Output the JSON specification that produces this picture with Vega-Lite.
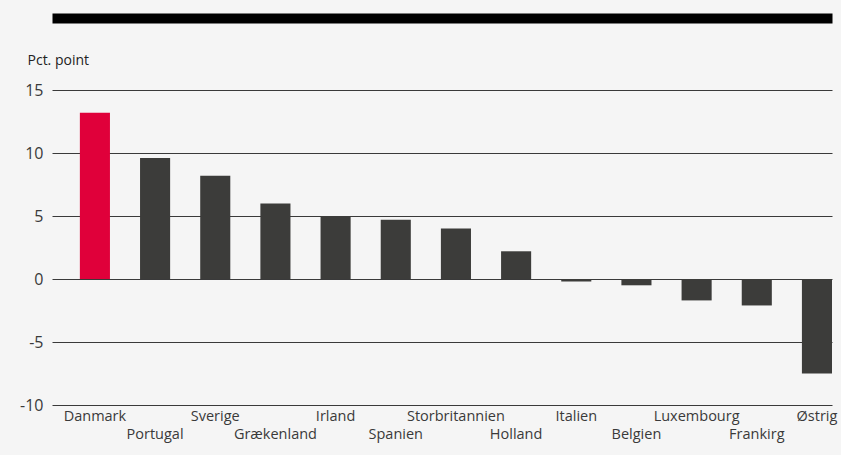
{
  "$schema": "https://vega.github.io/schema/vega-lite/v6.json",
  "width": 780,
  "height": 315,
  "autosize": {"type": "none"},
  "padding": {"left": 52, "top": 90, "right": 9, "bottom": 50},
  "background": "#f5f5f5",
  "config": {
    "view": {"stroke": null},
    "font": "Open Sans",
    "axis": {"labelColor": "#3a3a3a", "titleColor": "#222222"}
  },
  "data": {
    "values": [
      {"country": "Danmark", "value": 13.2},
      {"country": "Portugal", "value": 9.6},
      {"country": "Sverige", "value": 8.2},
      {"country": "Grækenland", "value": 6.0},
      {"country": "Irland", "value": 5.0},
      {"country": "Spanien", "value": 4.7},
      {"country": "Storbritannien", "value": 4.0},
      {"country": "Holland", "value": 2.2},
      {"country": "Italien", "value": -0.2},
      {"country": "Belgien", "value": -0.5},
      {"country": "Luxembourg", "value": -1.7},
      {"country": "Frankirg", "value": -2.1},
      {"country": "Østrig", "value": -7.5}
    ]
  },
  "encoding": {
    "x": {
      "field": "country",
      "type": "nominal",
      "sort": null,
      "scale": {"paddingInner": 0.5, "paddingOuter": 0.2316, "align": 1}
    }
  },
  "layer": [
    {
      "mark": {"type": "bar"},
      "encoding": {
        "x": {
          "field": "country",
          "type": "nominal",
          "sort": null,
          "axis": {
            "orient": "bottom",
            "title": null,
            "domain": false,
            "ticks": false,
            "labelAngle": 0,
            "labelFontSize": 14.5,
            "labelBaseline": "top",
            "labelPadding": 4,
            "labelLineHeight": 18,
            "labelExpr": "round(datum.index * 12) % 2 == 1 ? ['', datum.label] : datum.label"
          }
        },
        "y": {
          "field": "value",
          "type": "quantitative",
          "scale": {"domain": [-10, 15], "nice": false, "zero": true},
          "axis": {
            "values": [-10, -5, 0, 5, 10, 15],
            "labelExpr": "replace(datum.label, '−', '-')",
            "title": "Pct. point",
            "titleAngle": 0,
            "titleAlign": "left",
            "titleBaseline": "alphabetic",
            "titleX": -25,
            "titleY": -26,
            "titleFontSize": 14,
            "titleFontWeight": "normal",
            "domain": false,
            "ticks": false,
            "grid": true,
            "gridColor": "#3a3a3a",
            "gridWidth": 1,
            "labelFontSize": 16,
            "labelPadding": 9
          }
        },
        "color": {
          "condition": {"test": "datum.country === 'Danmark'", "value": "#e0003a"},
          "value": "#3c3c3a"
        }
      }
    },
    {
      "mark": {"type": "bar", "opacity": 0},
      "encoding": {
        "x": {
          "field": "country",
          "type": "nominal",
          "sort": null,
          "axis": {
            "orient": "top",
            "title": null,
            "labels": false,
            "ticks": false,
            "grid": false,
            "domain": true,
            "domainColor": "#000000",
            "domainWidth": 10,
            "offset": 72
          }
        }
      }
    }
  ],
  "resolve": {"axis": {"x": "independent"}}
}
